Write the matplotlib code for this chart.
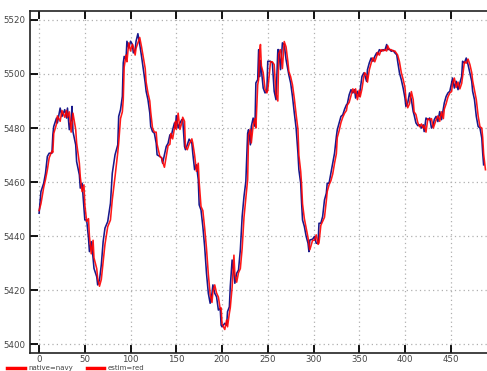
import matplotlib
matplotlib.use("Agg")
import matplotlib.pyplot as plt
from matplotlib.lines import Line2D

# sample index
steps = [0, 2, 5, 7, 9, 11, 14, 15, 16, 19, 20, 23, 25, 28, 30, 31, 33, 35, 36, 37,
         40, 41, 44, 45, 47, 49, 50, 52, 54, 55, 57, 59, 60, 63, 64, 66, 68, 70, 72, 75,
         78, 80, 83, 86, 87, 89, 91, 92, 93, 95, 96, 98, 100, 102, 103, 105, 106, 108, 110, 112,
         114, 116, 117, 119, 121, 122, 124, 126, 128, 129, 132, 134, 135, 137, 139, 141, 143, 144, 146, 148,
         149, 150, 152, 154, 156, 157, 159, 160, 162, 164, 167, 168, 170, 172, 174, 175, 177, 179, 181, 183,
         185, 187, 189, 190, 192, 194, 196, 198, 199, 200, 203, 205, 206, 208, 209, 211, 213, 214, 216, 218,
         220, 222, 224, 226, 228, 229, 231, 232, 234, 236, 237, 239, 240, 241, 242, 243, 245, 247, 249, 250,
         253, 255, 257, 259, 261, 262, 264, 266, 268, 270, 272, 273, 275, 277, 279, 281, 283, 284, 286, 287,
         288, 290, 292, 294, 295, 296, 299, 301, 303, 305, 306, 308, 310, 312, 314, 315, 317, 319, 321, 323,
         325, 326, 328, 330, 332, 334, 336, 337, 339, 341, 343, 345, 346, 348, 350, 351, 353, 355, 356, 358,
         359, 361, 363, 365, 367, 369, 370, 372, 374, 376, 378, 380, 381, 383, 385, 387, 389, 391, 392, 394,
         396, 398, 400, 401, 403, 405, 407, 409, 410, 412, 414, 416, 418, 420, 421, 423, 425, 427, 429, 431,
         432, 434, 436, 438, 440, 442, 443, 445, 447, 449, 451, 452, 454, 456, 458, 460, 462, 463, 465, 467,
         469, 471, 473, 474, 476, 478, 480, 482, 484, 485, 486]

native = [5448.5, 5456.5, 5459.6, 5463.3, 5469.5, 5470.7, 5470.7, 5477.5, 5480.6, 5483.7,
          5481.9, 5487.4, 5484.3, 5486.8, 5483.7, 5487.4, 5479.4, 5483.1, 5488.0, 5478.7,
          5473.8, 5467.6, 5462.7, 5457.8, 5459.6, 5450.4, 5446.0, 5446.0, 5439.3, 5434.3,
          5438.0, 5431.9, 5428.1, 5425.0, 5422.0, 5423.8, 5429.4, 5438.0, 5443.0, 5445.4,
          5452.2, 5463.3, 5470.1, 5473.8, 5484.3, 5486.8, 5491.7, 5504.1, 5506.5, 5505.3,
          5512.1, 5509.6, 5512.1, 5510.9, 5507.8, 5509.0, 5512.1, 5514.9, 5510.9, 5506.5,
          5501.6, 5496.7, 5493.6, 5490.5, 5485.6, 5480.6, 5478.7, 5478.1, 5474.4, 5470.1,
          5469.5, 5468.9, 5467.0, 5470.1, 5473.2, 5474.4, 5477.5, 5476.3, 5479.4, 5481.9,
          5480.0, 5484.6, 5480.0, 5481.9, 5483.1, 5483.1, 5473.2, 5472.0, 5473.8, 5475.9,
          5474.4, 5470.7, 5464.6, 5466.4, 5460.9, 5451.6, 5449.7, 5443.6, 5436.1, 5426.3,
          5418.9, 5415.2, 5418.9, 5422.0, 5418.9, 5417.6, 5412.7, 5413.3, 5407.1, 5406.5,
          5407.8, 5407.1, 5412.1, 5413.9, 5421.3, 5431.2, 5426.3, 5422.6, 5426.3, 5427.5,
          5434.9, 5447.3, 5454.7, 5460.2, 5478.1, 5479.4, 5473.8, 5480.6, 5483.7, 5480.6,
          5496.7, 5497.9, 5509.0, 5499.0, 5505.0, 5501.6, 5494.8, 5493.0, 5493.6, 5504.7,
          5504.7, 5504.1, 5493.6, 5490.5, 5509.0, 5509.0, 5501.6, 5511.5, 5510.9, 5505.3,
          5501.6, 5499.7, 5496.7, 5491.7, 5485.6, 5480.0, 5470.7, 5464.6, 5459.6, 5452.2,
          5446.0, 5443.6, 5439.9, 5437.4, 5434.3, 5438.6, 5438.9, 5439.9, 5437.4, 5437.4,
          5444.8, 5444.8, 5447.3, 5453.4, 5455.9, 5459.6, 5459.6, 5463.3, 5467.0, 5470.7,
          5476.9, 5479.4, 5481.9, 5484.3, 5484.9, 5487.0, 5488.6, 5489.0, 5492.3, 5494.2,
          5493.0, 5494.2, 5491.1, 5493.6, 5491.7, 5494.2, 5499.1, 5500.4, 5499.7, 5497.3,
          5501.6, 5504.1, 5505.9, 5504.7, 5506.5, 5507.8, 5507.1, 5509.0, 5508.4, 5509.0,
          5508.7, 5510.9, 5509.0, 5509.2, 5508.4, 5508.7, 5507.8, 5507.1, 5504.7, 5500.4,
          5497.9, 5494.8, 5491.1, 5488.0, 5489.3, 5493.0, 5490.5, 5486.1, 5484.9, 5481.9,
          5480.9, 5481.2, 5480.0, 5481.2, 5478.7, 5483.7, 5483.1, 5483.7, 5480.0, 5481.2,
          5483.1, 5484.3, 5482.4, 5486.1, 5483.1, 5487.4, 5489.3, 5491.7, 5493.0, 5493.6,
          5496.7, 5498.5, 5494.8, 5497.3, 5494.2, 5496.7, 5499.1, 5504.7, 5504.1, 5505.9,
          5503.4, 5500.4, 5497.3, 5493.6, 5490.5, 5484.3, 5480.6, 5480.0, 5476.3, 5470.7,
          5466.4]

estim_steps = steps + [488]
estim = [5449.5, 5452.0, 5458.0, 5461.0, 5464.5, 5469.0, 5471.5, 5471.0, 5478.0, 5481.5,
         5484.5, 5482.5, 5486.5, 5484.0, 5486.5, 5484.0, 5486.0, 5478.5, 5482.0, 5485.5,
         5479.5, 5474.5, 5467.0, 5462.0, 5456.5, 5459.0, 5451.5, 5445.5, 5446.5, 5440.0,
         5433.5, 5438.5, 5432.0, 5428.0, 5424.5, 5421.5, 5424.0, 5430.5, 5437.0, 5443.5,
         5446.0, 5453.5, 5462.0, 5471.0, 5474.5, 5483.5, 5486.0, 5490.5, 5502.5, 5507.0,
         5504.5, 5511.5, 5508.5, 5511.0, 5510.0, 5507.0, 5509.5, 5511.5, 5513.5, 5510.0,
         5506.0, 5502.0, 5497.0, 5493.0, 5490.0, 5486.0, 5480.0, 5478.5, 5478.5, 5474.0,
         5469.5, 5469.0, 5467.5, 5465.5, 5469.5, 5473.5, 5474.0, 5478.0, 5476.0, 5480.0,
         5482.5, 5479.5, 5485.5, 5479.5, 5482.0, 5484.0, 5482.5, 5473.0, 5472.0, 5474.0,
         5476.0, 5474.5, 5470.0, 5464.0, 5467.0, 5460.0, 5451.0, 5449.5, 5443.0, 5435.5,
         5426.0, 5418.5, 5415.5, 5419.5, 5422.0, 5419.0, 5417.5, 5413.0, 5413.5, 5407.5,
         5405.5, 5409.0, 5406.5, 5411.5, 5413.5, 5421.0, 5433.0, 5426.0, 5423.0, 5426.5,
         5428.0, 5435.5, 5447.0, 5454.0, 5461.0, 5477.5, 5479.5, 5474.5, 5481.0, 5483.5,
         5480.0, 5496.0, 5498.0, 5508.0, 5510.9, 5503.0, 5500.5, 5494.5, 5493.0, 5494.0,
         5504.5, 5504.5, 5503.5, 5492.5, 5490.0, 5507.5, 5509.0, 5502.0, 5512.0, 5510.0,
         5504.5, 5501.0, 5499.0, 5496.0, 5491.0, 5485.0, 5479.5, 5470.0, 5464.0, 5459.0,
         5452.0, 5446.5, 5443.0, 5439.5, 5437.0, 5435.0, 5438.5, 5438.5, 5440.5, 5437.0,
         5437.5, 5444.0, 5445.5, 5447.0, 5453.0, 5456.5, 5459.0, 5460.5, 5463.0, 5467.0,
         5470.5, 5476.5, 5479.0, 5482.0, 5484.0, 5485.5, 5486.5, 5488.5, 5489.5, 5492.0,
         5494.5, 5493.0, 5494.5, 5490.5, 5494.0, 5491.5, 5494.5, 5499.0, 5500.5, 5499.5,
         5497.0, 5501.5, 5504.0, 5506.0, 5504.5, 5506.5, 5508.0, 5507.0, 5509.0, 5508.5,
         5509.0, 5508.5, 5510.5, 5509.0, 5509.0, 5508.5, 5508.5, 5507.5, 5507.0, 5504.5,
         5500.5, 5498.0, 5495.0, 5491.0, 5487.5, 5489.0, 5493.5, 5490.5, 5486.0, 5485.0,
         5482.0, 5480.5, 5481.5, 5480.0, 5481.0, 5478.5, 5483.5, 5483.0, 5483.5, 5480.0,
         5481.0, 5483.0, 5484.5, 5482.5, 5486.0, 5483.5, 5487.0, 5489.0, 5491.5, 5493.0,
         5493.5, 5496.5, 5498.5, 5495.0, 5497.0, 5494.5, 5496.5, 5499.0, 5504.5, 5504.0,
         5505.5, 5503.5, 5500.5, 5497.5, 5494.0, 5490.5, 5484.5, 5480.5, 5480.0, 5476.5,
         5470.5, 5464.6]

xticks = [0, 50, 100, 150, 200, 250, 300, 350, 400, 450]
yticks = [5400, 5420, 5440, 5460, 5480, 5500, 5520]

fig = plt.figure(figsize=(4.87, 3.71), dpi=100)
ax = fig.add_axes([0.0606, 0.0477, 0.955, 0.9227])

ax.plot(steps, native, color='#000080', lw=1.15, alpha=0.9)
ax.plot(estim_steps, estim, color='#ff0000', lw=1.15, alpha=0.9)

ax.set_xlim(-10.5, 498)
ax.set_ylim(5396.7, 5523.3)
ax.set_xticks(xticks)
ax.set_yticks(yticks)

ax.grid(True, color='#b0b0b0', linestyle=(0, (1, 2.5)), linewidth=0.9)
ax.tick_params(direction='in', length=6, width=1.3, color='black',
               labelsize=6.2, labelcolor='#444444', top=True, right=True)
ax.tick_params(axis='x', pad=1)
ax.tick_params(axis='y', pad=3)
for s in ax.spines.values():
    s.set_linewidth(1.2)
    s.set_color('#222222')

# both legend keys are drawn in red
handles = [Line2D([], [], color='#ff0000', lw=2.5),
           Line2D([], [], color='#ff0000', lw=2.5)]
fig.legend(handles, ['native=navy', 'estim=red'], loc='lower left',
           bbox_to_anchor=(0.015, -0.001), ncol=2, frameon=False,
           borderpad=0, borderaxespad=0,
           fontsize=5.0, handlelength=2.5, handletextpad=0.5, columnspacing=2.0,
           labelcolor='#444444')

fig.savefig('out.png', dpi=100)
